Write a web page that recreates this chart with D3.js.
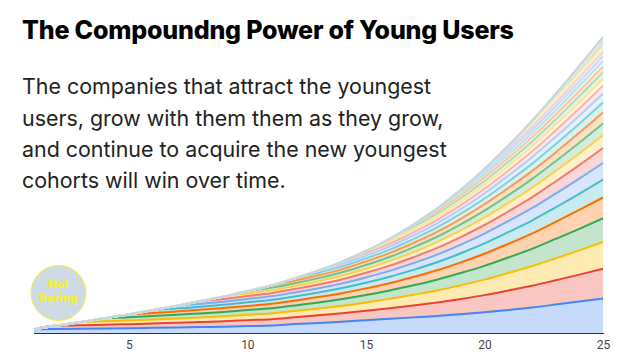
<!DOCTYPE html>
<html><head><meta charset="utf-8">
<script src="https://cdn.jsdelivr.net/npm/d3@7"></script>
<style>html,body{margin:0;padding:0;background:#fff;} svg{display:block}</style>
</head><body>
<svg id="c" width="624" height="364"></svg>
<script>
// ---- data ----
const years = [1,2,3,4,5,6,7,8,9,10,11,12,13,14,15,16,17,18,19,20,21,22,23,24,25];
const cohort1  = [3.9,4.0,4.2,4.5,4.8,5.2,5.6,6.0,6.4,7.0,7.5,9.0,10.2,11.5,13.0,14.4,15.8,17.2,19.0,20.9,23.2,25.7,28.7,31.8,35.0];
const cohort2  = [0,3.5,3.6,3.9,4.1,4.4,4.8,5.1,5.5,6.0,6.5,7.0,7.7,8.5,9.4,10.6,12.0,13.6,15.4,17.4,19.7,22.0,24.6,27.2,30.0];
const cohort3  = [0,0,3.3,3.5,3.7,4.0,4.3,4.6,5.0,5.4,5.8,6.3,6.9,7.6,8.5,9.5,10.8,12.2,13.9,15.7,17.7,19.8,22.1,24.5,27.0];
const cohort4  = [0,0,0,3.1,3.3,3.5,3.8,4.1,4.4,4.8,5.2,5.6,6.1,6.8,7.6,8.5,9.6,10.9,12.3,13.9,15.7,17.6,19.7,21.8,24.0];
const cohort5  = [0,0,0,0,2.9,3.1,3.3,3.6,3.9,4.2,4.5,4.9,5.4,5.9,6.6,7.4,8.4,9.5,10.8,12.2,13.8,15.4,17.2,19.1,21.0];
const cohort6  = [0,0,0,0,0,2.7,2.9,3.1,3.3,3.6,3.9,4.2,4.6,5.1,5.7,6.4,7.2,8.1,9.2,10.5,11.8,13.2,14.7,16.3,18.0];
const cohort7  = [0,0,0,0,0,0,2.7,2.9,3.1,3.4,3.7,4.0,4.4,4.8,5.4,6.0,6.8,7.7,8.7,9.9,11.1,12.5,13.9,15.4,17.0];
const cohort8  = [0,0,0,0,0,0,0,2.6,2.8,3.0,3.2,3.5,3.8,4.2,4.7,5.3,6.0,6.8,7.7,8.7,9.8,11.0,12.3,13.6,15.0];
const cohort9  = [0,0,0,0,0,0,0,0,2.4,2.6,2.8,3.0,3.3,3.7,4.1,4.6,5.2,5.9,6.7,7.6,8.5,9.6,10.6,11.8,13.0];
const cohort10 = [0,0,0,0,0,0,0,0,0,2.4,2.6,2.8,3.1,3.4,3.8,4.2,4.8,5.4,6.2,7.0,7.9,8.8,9.8,10.9,12.0];
const cohort11 = [0,0,0,0,0,0,0,0,0,0,2.4,2.6,2.8,3.1,3.5,3.9,4.4,5.0,5.6,6.4,7.2,8.1,9.0,10.0,11.0];
const cohort12 = [0,0,0,0,0,0,0,0,0,0,0,2.3,2.6,2.8,3.1,3.5,4.0,4.5,5.1,5.8,6.6,7.3,8.2,9.1,10.0];
const cohort13 = [0,0,0,0,0,0,0,0,0,0,0,0,2.3,2.5,2.8,3.2,3.6,4.1,4.6,5.2,5.9,6.6,7.4,8.2,9.0];
const cohort14 = [0,0,0,0,0,0,0,0,0,0,0,0,0,2.3,2.5,2.8,3.2,3.6,4.1,4.6,5.2,5.9,6.6,7.3,8.0];
const cohort15 = [0,0,0,0,0,0,0,0,0,0,0,0,0,0,2.2,2.5,2.8,3.2,3.6,4.1,4.6,5.1,5.7,6.4,7.0];
const cohort16 = [0,0,0,0,0,0,0,0,0,0,0,0,0,0,0,2.3,2.6,2.9,3.3,3.8,4.3,4.8,5.3,5.9,6.5];
const cohort17 = [0,0,0,0,0,0,0,0,0,0,0,0,0,0,0,0,2.4,2.7,3.1,3.5,3.9,4.4,4.9,5.4,6.0];
const cohort18 = [0,0,0,0,0,0,0,0,0,0,0,0,0,0,0,0,0,2.5,2.8,3.2,3.6,4.0,4.5,5.0,5.5];
const cohort19 = [0,0,0,0,0,0,0,0,0,0,0,0,0,0,0,0,0,0,2.6,2.9,3.3,3.7,4.1,4.5,5.0];
const cohort20 = [0,0,0,0,0,0,0,0,0,0,0,0,0,0,0,0,0,0,0,2.6,2.9,3.3,3.7,4.1,4.5];
const cohort21 = [0,0,0,0,0,0,0,0,0,0,0,0,0,0,0,0,0,0,0,0,2.6,2.9,3.3,3.6,4.0];
const cohort22 = [0,0,0,0,0,0,0,0,0,0,0,0,0,0,0,0,0,0,0,0,0,2.6,2.9,3.2,3.5];
const cohort23 = [0,0,0,0,0,0,0,0,0,0,0,0,0,0,0,0,0,0,0,0,0,0,2.5,2.7,3.0];
const cohort24 = [0,0,0,0,0,0,0,0,0,0,0,0,0,0,0,0,0,0,0,0,0,0,0,2.3,2.5];
const cohort25 = [0,0,0,0,0,0,0,0,0,0,0,0,0,0,0,0,0,0,0,0,0,0,0,0,2.0];
const seriesValues = [cohort1,cohort2,cohort3,cohort4,cohort5,cohort6,cohort7,cohort8,cohort9,cohort10,
  cohort11,cohort12,cohort13,cohort14,cohort15,cohort16,cohort17,cohort18,cohort19,cohort20,
  cohort21,cohort22,cohort23,cohort24,cohort25];
const seriesColors = ['#4285f4','#ea4335','#fbbc04','#34a853','#ff6d01','#46bdc6',
  '#7baaf7','#f07b72','#fcd04f','#71c287','#ff994d','#7ed1d7',
  '#b3cefb','#f7b4ae','#fde49b','#aedcba','#ffc599','#b5e5e8',
  '#c6dafc','#f9d0cc','#feeec0','#cdead5','#ffdcc4','#cfeef0','#c3d6e2'];
const tickLabels = [5,10,15,20,25];
const titleText = "The Compoundng Power of Young Users";
const subtitleLines = [
  "The companies that attract the youngest",
  "users, grow with them them as they grow,",
  "and continue to acquire the new youngest",
  "cohorts will win over time."
];
const logoLines = ["Not","Boring"];

// ---- drawing ----
const svg = d3.select('#c');
const x = d3.scaleLinear().domain([1,25]).range([34,603]);
const y = d3.scaleLinear().domain([0,300]).range([333,36.3]);

const keys = seriesValues.map((s,k)=>'c'+k);
const table = years.map((yr,i)=>{const o={year:yr}; seriesValues.forEach((s,k)=>{o['c'+k]=s[i];}); return o;});
const stacked = d3.stack().keys(keys)(table);

const area = d3.area().x(d=>x(d.data.year)).y0(d=>y(d[0])).y1(d=>y(d[1])).curve(d3.curveMonotoneX);
const line = d3.line().x(d=>x(d.data.year)).y(d=>y(d[1])).curve(d3.curveMonotoneX);

const plot = svg.append('g');
plot.selectAll('path.area').data(stacked).join('path')
  .attr('class','area').attr('d',area)
  .attr('fill',(d,i)=>seriesColors[i]).attr('fill-opacity',0.3).attr('stroke','none');
plot.selectAll('path.line').data(stacked).join('path')
  .attr('class','line').attr('d',line)
  .attr('fill','none').attr('stroke',(d,i)=>seriesColors[i]).attr('stroke-width',2);

// axis baseline
svg.append('line').attr('x1',x(1)).attr('x2',x(25)+1).attr('y1',333.5).attr('y2',333.5)
  .attr('stroke','#333').attr('stroke-width',1.2);

const ax = svg.append('g').attr('transform','translate(0,333)')
  .call(d3.axisBottom(x).tickValues(tickLabels).tickSize(0).tickPadding(7.5));
ax.select('.domain').remove();
ax.selectAll('text').attr('font-family','Roboto, "Liberation Sans", Arial, sans-serif')
  .attr('font-size',12).attr('fill','#444');

// title
const title = svg.append('text').attr('x',22).attr('y',38.5)
  .attr('font-family','Inter, "Noto Sans", sans-serif').attr('font-weight',800)
  .attr('font-size',22).attr('fill','#000').attr('letter-spacing','-0.2')
  .text(titleText);
{
  const w = title.node().getComputedTextLength();
  title.attr('font-size', 22*491/w);
}

// subtitle
const sub = svg.append('g');
const subBase = [94,125.5,156.8,188];
const subs = sub.selectAll('text').data(subtitleLines).join('text')
  .attr('x',22).attr('y',(d,i)=>subBase[i])
  .attr('font-family','Inter, "Noto Sans", sans-serif').attr('font-weight',400)
  .attr('font-size',20).attr('fill','#222').text(d=>d);
{
  const w = subs.filter((d,i)=>i===2).node().getComputedTextLength();
  subs.attr('font-size', 20*425/w);
}

// logo
const logo = svg.append('g').attr('transform','translate(58.5,293)');
logo.append('circle').attr('r',27.5).attr('fill','#cfdbe2').attr('stroke','#f3ef3a').attr('stroke-width',1);
logo.selectAll('text').data(logoLines).join('text')
  .attr('x',0).attr('y',(d,i)=> i===0 ? -5 : 8.5)
  .attr('text-anchor','middle')
  .attr('font-family','Inter, "Noto Sans", sans-serif').attr('font-weight',900)
  .attr('font-size',11).attr('letter-spacing','0.3').attr('fill','#f4f030').text(d=>d);
</script>
</body></html>
